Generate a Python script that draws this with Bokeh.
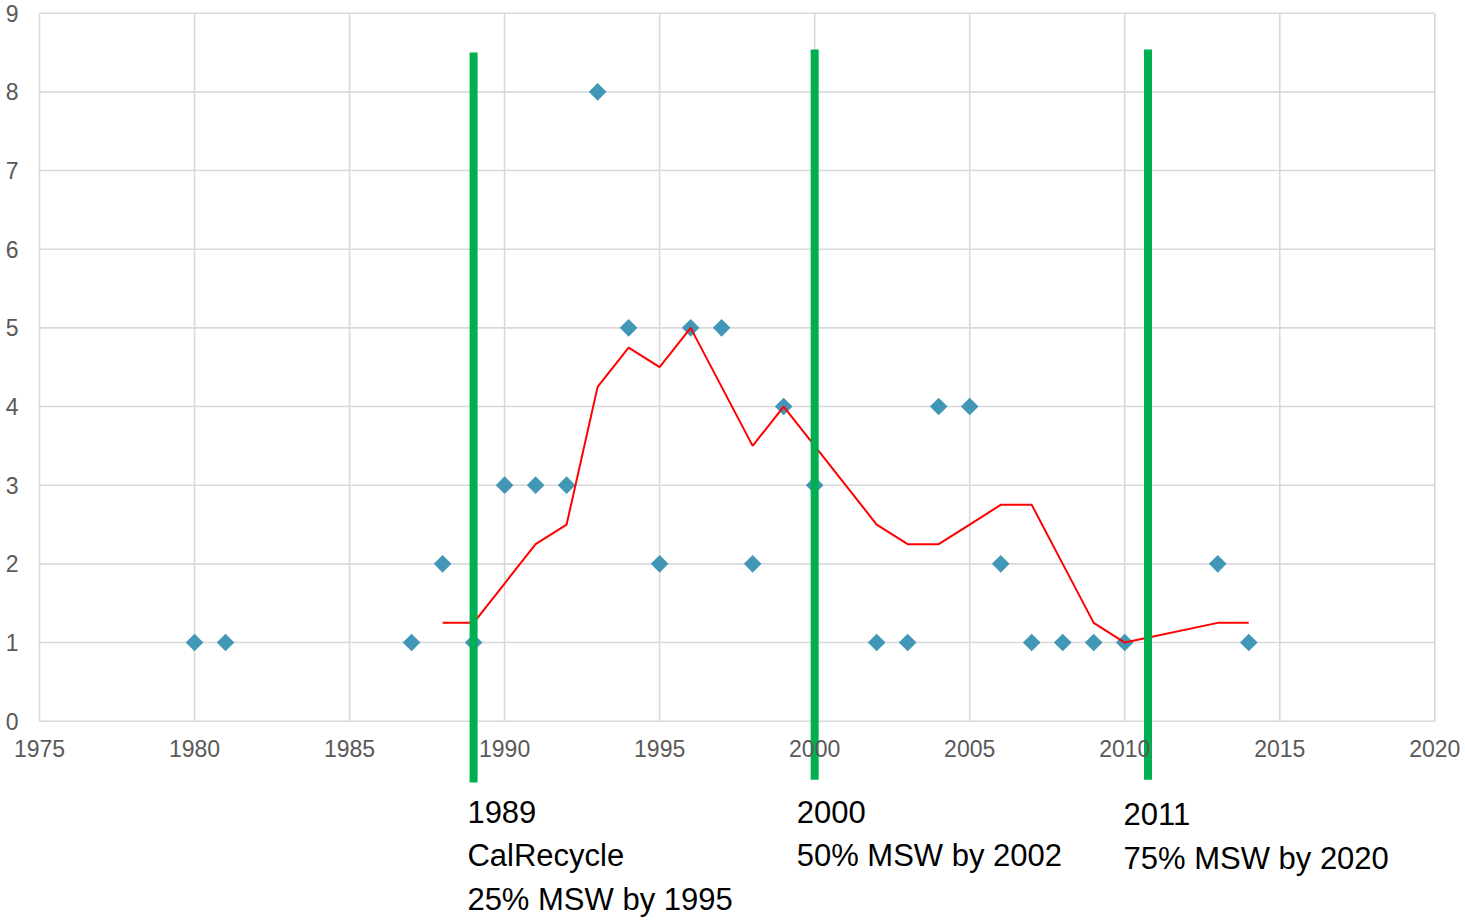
import math
from bokeh.plotting import figure
from bokeh.models import Range1d, FixedTicker
from bokeh.embed import file_html
from bokeh.resources import INLINE
from bokeh.core.properties import value

# ---------------- data ----------------
years = [1980, 1981, 1987, 1988, 1989, 1990, 1991, 1992, 1993, 1994, 1995, 1996, 1997,
         1998, 1999, 2000, 2002, 2003, 2004, 2005, 2006, 2007, 2008, 2009, 2010, 2013, 2014]
counts = [1, 1, 1, 2, 1, 3, 3, 3, 8, 5, 2, 5, 5,
          2, 4, 3, 1, 1, 4, 4, 2, 1, 1, 1, 1, 2, 1]

trend_years = [1988, 1989, 1990, 1991, 1992, 1993, 1994, 1995, 1996, 1997, 1998, 1999,
               2000, 2002, 2003, 2004, 2005, 2006, 2007, 2008, 2009, 2010, 2013, 2014]
trend_vals = [1.25, 1.25, 1.75, 2.25, 2.5, 4.25, 4.75, 4.5, 5, 4.25, 3.5, 4,
              3.5, 2.5, 2.25, 2.25, 2.5, 2.75, 2.75, 2, 1.25, 1, 1.25, 1.25]

milestone_x = [1989, 2000, 2010.75]
milestone_top = [8.5, 8.54, 8.54]
milestone_bottom = [-0.78, -0.745, -0.745]

ann_x = [1988.8, 1999.42, 2009.96]
ann_first_y = [-1.15, -1.15, -1.18]
ann_lines = [["1989", "CalRecycle", "25% MSW by 1995"],
             ["2000", "50% MSW by 2002"],
             ["2011", "75% MSW by 2020"]]

x_ticks = [1975, 1980, 1985, 1990, 1995, 2000, 2005, 2010, 2015, 2020]
y_ticks = [0, 1, 2, 3, 4, 5, 6, 7, 8, 9]

# ---------------- layout (frame covers the whole canvas) ----------------
W, H = 1465, 922
px_left, px_right = 39.0, 1434.3     # pixel of first / last x tick
px_top, px_zero = 12.7, 720.7        # pixel of top / zero y tick
ppx = (px_right - px_left) / (x_ticks[-1] - x_ticks[0])
ppy = (px_zero - px_top) / (y_ticks[-1] - y_ticks[0])
x_start = x_ticks[0] - px_left / ppx
x_end = x_ticks[-1] + (W - px_right) / ppx
y_end = y_ticks[-1] + px_top / ppy
y_start = y_ticks[0] - (H - px_zero) / ppy
line_step = 44.0 / ppy

p = figure(width=W, height=H, output_backend="svg", toolbar_location=None,
           x_range=Range1d(x_start, x_end), y_range=Range1d(y_start, y_end),
           min_border_left=0, min_border_right=0,
           min_border_top=0, min_border_bottom=0)
p.outline_line_color = None
p.grid.visible = False
p.background_fill_color = "white"
p.border_fill_color = "white"

grid_col = "#D9D9D9"
# gridlines
p.segment(x0=x_ticks, y0=[y_ticks[0]] * len(x_ticks), x1=x_ticks, y1=[y_ticks[-1]] * len(x_ticks),
          line_color=grid_col, line_width=1.6)
p.segment(x0=[x_ticks[0]] * len(y_ticks), y0=y_ticks, x1=[x_ticks[-1]] * len(y_ticks), y1=y_ticks,
          line_color=grid_col, line_width=1.6)

# data points
p.scatter(years, counts, marker="square", size=12.5, angle=math.pi / 4,
          fill_color="#4397B6", line_color=None)

# moving average trend
p.line(trend_years, trend_vals, line_color="#FF0000", line_width=2)

# milestone lines
p.segment(x0=milestone_x, y0=milestone_bottom, x1=milestone_x, y1=milestone_top,
          line_color="#00B050", line_width=8)

# annotation texts
tx, ty, tt = [], [], []
for x0, y0, lines in zip(ann_x, ann_first_y, ann_lines):
    for i, s in enumerate(lines):
        tx.append(x0)
        ty.append(y0 - i * line_step)
        tt.append(s)
p.text(x=tx, y=ty, text=tt, text_font=value("Liberation Sans"), text_font_size="31px",
       text_color="black", text_align="left", text_baseline="alphabetic")

# axes
xa = p.xaxis[0]
xa.fixed_location = 0
xa.ticker = FixedTicker(ticks=x_ticks)
xa.axis_line_color = None
xa.major_tick_line_color = None
xa.minor_tick_line_color = None
xa.major_tick_out = 0
xa.major_tick_in = 0
xa.major_label_standoff = 19
xa.major_label_text_font = "Liberation Sans"
xa.major_label_text_font_size = "23px"
xa.major_label_text_color = "#595959"

ya = p.yaxis[0]
ya.fixed_location = 1975
ya.ticker = FixedTicker(ticks=y_ticks)
ya.axis_line_color = None
ya.major_tick_line_color = None
ya.minor_tick_line_color = None
ya.major_tick_out = 0
ya.major_tick_in = 0
ya.major_label_standoff = 21
ya.major_label_text_font = "Liberation Sans"
ya.major_label_text_font_size = "23px"
ya.major_label_text_color = "#595959"

open("out.html", "w").write(file_html(p, INLINE))
